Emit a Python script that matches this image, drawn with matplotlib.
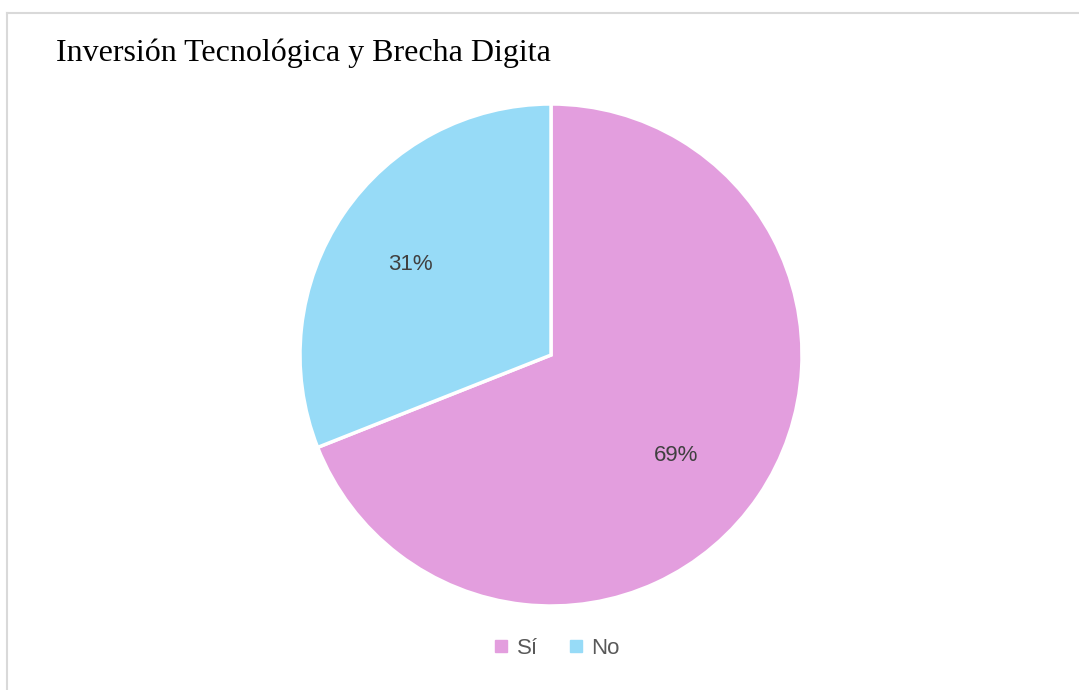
import matplotlib
matplotlib.use("Agg")
import matplotlib.pyplot as plt
from matplotlib.lines import Line2D

categories = ["Sí", "No"]
values = [69, 31]
colors = ["#E39EDE", "#97DBF7"]
title = "Inversión Tecnológica y Brecha Digita"

W, H = 1079, 690
fig = plt.figure(figsize=(W / 100, H / 100), dpi=100)
fig.patch.set_facecolor("white")

# border lines (top and left)
fig.add_artist(Line2D([7 / W, 1], [1 - 13 / H, 1 - 13 / H], color="#D9D9D9", lw=1.5))
fig.add_artist(Line2D([7 / W, 7 / W], [0, 1 - 13 / H], color="#D9D9D9", lw=1.5))

fig.text(56 / W, 1 - 53 / H, title, fontsize=23, family="Liberation Serif",
         color="black", va="center", ha="left")

cx, cy, r = 551, 355, 251
ax = fig.add_axes([(cx - r) / W, 1 - (cy + r) / H, 2 * r / W, 2 * r / H])
wedges, texts, autotexts = ax.pie(
    values, colors=colors, startangle=90, counterclock=False,
    autopct=lambda p: f"{p:.0f}%", pctdistance=0.65,
    wedgeprops=dict(edgecolor="white", linewidth=2.5),
    textprops=dict(fontsize=16, color="#404040", family="Liberation Sans"),
)
# label placement as in the reference
autotexts[0].set_position((0.50, -0.40))
autotexts[1].set_position((-0.56, 0.36))
ax.set_aspect("equal")
ax.set_xlim(-1, 1)
ax.set_ylim(-1, 1)
ax.axis("off")

handles = [Line2D([], [], marker="s", linestyle="", markersize=8,
                  markerfacecolor=c, markeredgecolor=c) for c in colors]
leg = fig.legend(handles, categories, loc="center", bbox_to_anchor=(556 / W, 1 - 648 / H),
                 ncol=2, frameon=False, handletextpad=0.3, columnspacing=1.3,
                 handlelength=0.8, prop=dict(family="Liberation Sans", size=16))
for t in leg.get_texts():
    t.set_color("#595959")

fig.savefig("out.png", dpi=100, facecolor="white")
